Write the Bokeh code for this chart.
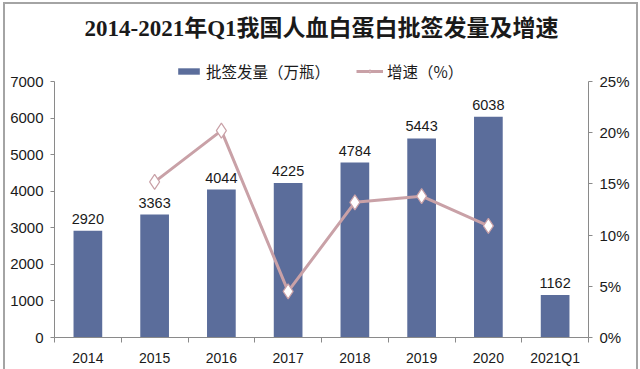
from bokeh.plotting import figure
from bokeh.models import (Range1d, LinearAxis, FixedTicker, NumeralTickFormatter,
                          Legend, LegendItem, ColumnDataSource, LabelSet, Label)
from bokeh.core.properties import value
from bokeh.embed import file_html
from bokeh.resources import INLINE

title_text = "2014-2021年Q1我国人血白蛋白批签发量及增速"
categories = ["2014", "2015", "2016", "2017", "2018", "2019", "2020", "2021Q1"]
volume = [2920, 3363, 4044, 4225, 4784, 5443, 6038, 1162]
growth_years = ["2015", "2016", "2017", "2018", "2019", "2020"]
growth = [0.152, 0.202, 0.045, 0.132, 0.138, 0.109]
left_ticks = [0, 1000, 2000, 3000, 4000, 5000, 6000, 7000]
right_ticks = [0, 0.05, 0.10, 0.15, 0.20, 0.25]

BAR = "#5b6d9b"
LINE = "#c9a1a7"
AXIS = "#8a8a8a"
TXT = "#1a1a1a"

# plot frame extends above the top tick so that title and legend can sit inside it
HEAD = 325 / 256
xpos = {c: i + 0.5 for i, c in enumerate(categories)}

p = figure(width=640, height=369, output_backend="svg", toolbar_location=None,
           x_range=Range1d(0, len(categories)), y_range=Range1d(0, left_ticks[-1] * HEAD),
           min_border_left=54, min_border_right=52, min_border_top=12, min_border_bottom=32)
p.extra_y_ranges = {"pct": Range1d(0, right_ticks[-1] * HEAD)}
p.outline_line_color = None
p.xgrid.visible = False
p.ygrid.visible = False
p.background_fill_color = "white"
p.border_fill_color = None
p.styles = {
    "background": ("linear-gradient(#a4a4a4,#a4a4a4) 3px 2px / 2px 100% no-repeat, "
                   "linear-gradient(#a4a4a4,#a4a4a4) 3px 2px / 634px 2px no-repeat, "
                   "linear-gradient(#a4a4a4,#a4a4a4) 636px 2px / 2px 100% no-repeat, white"),
}

p.add_layout(Label(x=len(categories) / 2, y=309, y_units="screen", text=title_text,
                   text_align="center", text_baseline="middle",
                   text_font="Liberation Serif, Noto Sans CJK SC", text_font_size="23px",
                   text_font_style="bold", text_color=TXT))

bar_src = ColumnDataSource(dict(x=[xpos[c] for c in categories], top=volume,
                                lab=[str(v) for v in volume]))
bars = p.vbar(x="x", top="top", width=0.43, source=bar_src, fill_color=BAR, line_color=None)
p.add_layout(LabelSet(x="x", y="top", text="lab", source=bar_src, text_align="center",
                      text_baseline="bottom", y_offset=7, text_font=value("Liberation Sans"),
                      text_font_size=value("14.5px"), text_color=TXT))

g_src = ColumnDataSource(dict(x=[xpos[c] for c in growth_years], y=growth))
line = p.line("x", "y", source=g_src, y_range_name="pct", line_color=LINE, line_width=3)
pts = p.scatter("x", "y", source=g_src, y_range_name="pct", marker="diamond", size=15,
                fill_color="white", line_color=LINE, line_width=1.2)

# axes
xa = p.xaxis[0]
xa.ticker = FixedTicker(ticks=[xpos[c] for c in categories],
                        minor_ticks=list(range(len(categories) + 1)))
xa.major_label_overrides = {xpos[c]: c for c in categories}
xa.major_tick_line_color = None
xa.minor_tick_in = 0
xa.minor_tick_out = 5
xa.minor_tick_line_color = AXIS
xa.axis_line_color = AXIS
xa.major_label_text_font = "Liberation Sans"
xa.major_label_text_font_size = "14px"
xa.major_label_text_color = TXT
xa.major_label_standoff = 6

ya = p.yaxis[0]
ya.ticker = FixedTicker(ticks=left_ticks)
ya.bounds = (left_ticks[0], left_ticks[-1])
ya.minor_tick_line_color = None
ya.major_tick_in = 0
ya.major_tick_out = 4
ya.major_tick_line_color = AXIS
ya.axis_line_color = AXIS
ya.major_label_text_font = "Liberation Sans"
ya.major_label_text_font_size = "15px"
ya.major_label_text_color = TXT
ya.major_label_standoff = 7

ra = LinearAxis(y_range_name="pct", ticker=FixedTicker(ticks=right_ticks),
                formatter=NumeralTickFormatter(format="0%"),
                bounds=(right_ticks[0], right_ticks[-1]))
ra.minor_tick_line_color = None
ra.major_tick_in = 0
ra.major_tick_out = 4
ra.major_tick_line_color = AXIS
ra.axis_line_color = AXIS
ra.major_label_text_font = "Liberation Sans"
ra.major_label_text_font_size = "15px"
ra.major_label_text_color = TXT
ra.major_label_standoff = 7
p.add_layout(ra, "right")

legend = Legend(items=[LegendItem(label="批签发量（万瓶）", renderers=[bars]),
                       LegendItem(label="增速（%）", renderers=[line, pts])],
                orientation="horizontal", location=(121, 255),
                label_text_font="Noto Sans CJK SC", label_text_font_size="15.5px",
                label_text_color=TXT, glyph_width=27, glyph_height=8,
                label_standoff=4, spacing=26, padding=0, margin=0,
                border_line_color=None, background_fill_alpha=0, label_height=20)
p.add_layout(legend, "center")

open("out.html", "w").write(file_html(p, INLINE))
